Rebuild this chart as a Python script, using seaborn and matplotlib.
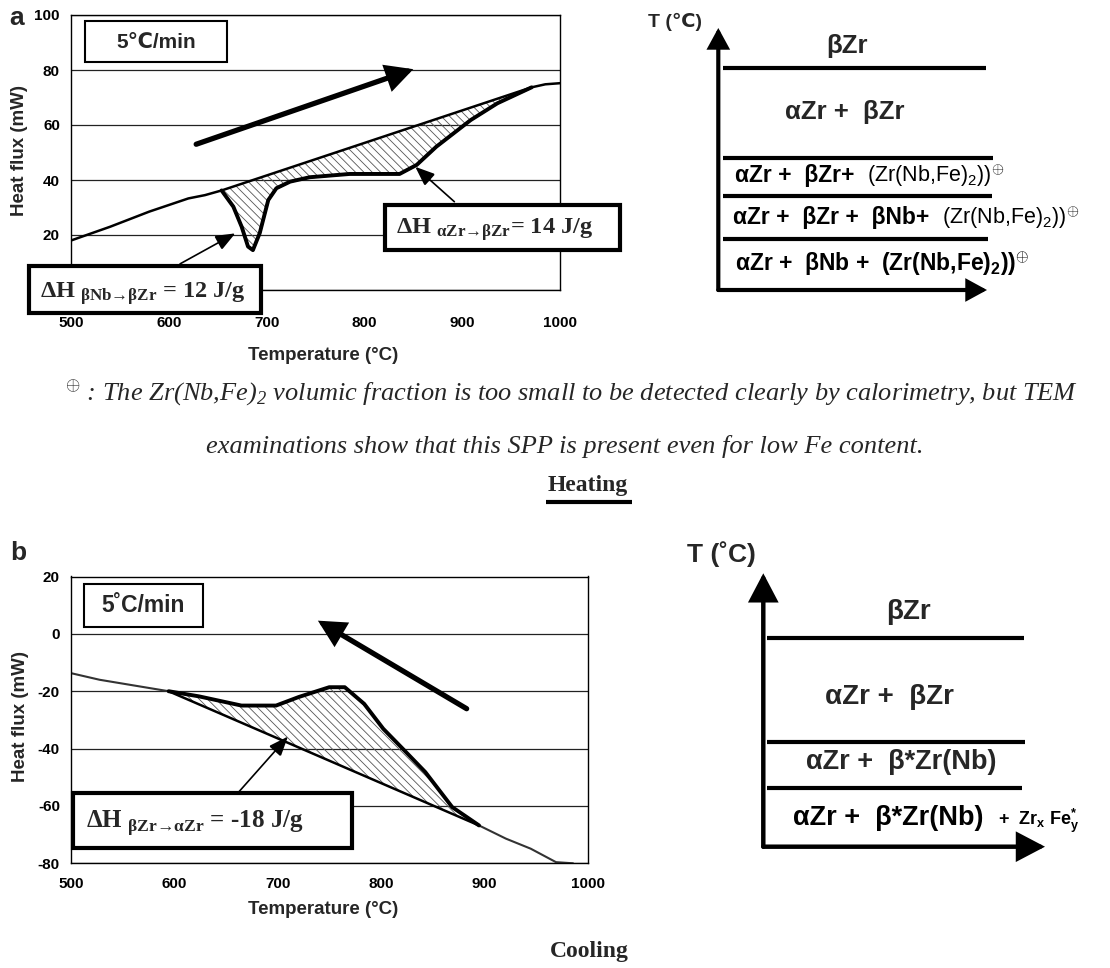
import numpy as np
import pandas as pd
import matplotlib
matplotlib.use("Agg")
import matplotlib.pyplot as plt
import seaborn as sns
from matplotlib.patches import Rectangle
from matplotlib.offsetbox import TextArea, HPacker, AnnotationBbox

# ---------------- data ----------------
heat_temp = [500, 540, 580, 620, 637, 654, 666, 674.5, 681, 686, 693, 701.7, 710,
             724, 744, 785, 836, 853.5, 873.5, 908.7, 936, 971, 985, 1000]
heat_flux = [18, 23, 28.5, 33.3, 34.5, 36.2, 30.3, 23, 15.8, 14.5, 20.7, 32.7, 37,
             39.4, 41, 42.2, 42.2, 45.5, 52.1, 61.8, 67.9, 73.7, 74.8, 75.2]
heat_base_temp = [654, 971]
heat_base_flux = [36.2, 73.7]

cool_temp = [500, 527.6, 561, 594.5, 624, 665, 698.5, 720.6, 750, 765, 783.8, 802.3,
             821, 843, 869, 895, 921, 945, 969.5, 986]
cool_flux = [-13.7, -16, -18, -20, -21.8, -25, -25, -22, -18.6, -18.6, -24.4, -33.1,
             -40, -48.2, -60.4, -66.8, -71.4, -74.9, -79.6, -80]
cool_base_temp = [594.5, 895]
cool_base_flux = [-20, -66.8]

x_ticks = [500, 600, 700, 800, 900, 1000]
heat_y_ticks = [0, 20, 40, 60, 80, 100]
heat_y_labels = ["", "20", "40", "60", "80", "100"]   # 0 is hidden behind the box
cool_y_ticks = [-80, -60, -40, -20, 0, 20]
cool_y_labels = ["-80", "-60", "-40", "-20", "0", "20"]

rate_a = "5\u2103/min"
rate_b = "5\u02daC/min"
dh_heat_1 = r"ΔH $_{\mathsf{βNb→βZr}}$ = 12 J/g"
dh_heat_2 = r"ΔH $_{\mathsf{αZr→βZr}}$= 14 J/g"
dh_cool = r"ΔH $_{\mathsf{βZr→αZr}}$ = -18 J/g"
caption_1 = r"$^{\oplus}$ : The Zr(Nb,Fe)$_\mathcal{2}$ volumic fraction is too small to be detected clearly by calorimetry, but TEM"
caption_2 = "examinations show that this SPP is present even for low Fe content."

# ---------------- style ----------------
sns.set_style("white")
plt.rcParams["font.family"] = ["Liberation Sans", "DejaVu Sans"]
plt.rcParams["mathtext.fontset"] = "custom"
plt.rcParams["mathtext.rm"] = "Liberation Sans"
plt.rcParams["mathtext.bf"] = "Liberation Sans:bold"
plt.rcParams["mathtext.it"] = "Liberation Sans:italic"
plt.rcParams["mathtext.sf"] = "Liberation Serif:bold"
plt.rcParams["mathtext.cal"] = "Liberation Serif:italic"
plt.rcParams["hatch.linewidth"] = 0.6

W, H = 1110, 968
fig = plt.figure(figsize=(W / 100, H / 100), dpi=100)


def add_ax(x0, y0, x1, y1):
    return fig.add_axes([x0 / W, 1 - y1 / H, (x1 - x0) / W, (y1 - y0) / H])


def style_axes(ax, xlim, ylim, yticks, ylabels, xpad):
    ax.set_xlim(*xlim)
    ax.set_ylim(*ylim)
    ax.set_xticks(x_ticks)
    ax.set_xticklabels([str(t) for t in x_ticks], fontsize=11, fontweight="bold")
    ax.set_yticks(yticks)
    ax.set_yticklabels(ylabels, fontsize=11, fontweight="bold")
    ax.tick_params(axis="x", direction="in", length=5, width=1, pad=xpad, colors="black")
    ax.tick_params(axis="y", direction="out", length=5, width=1, pad=3, colors="black")
    ax.xaxis.grid(False)
    ax.yaxis.grid(True, color="#222222", lw=0.9)
    ax.set_axisbelow(True)
    for sp in ax.spines.values():
        sp.set_visible(True)
        sp.set_color("black")
        sp.set_linewidth(1)
    ax.set_xlabel("")
    ax.set_ylabel("")


def arrow(ax, tail, head, lw, hl, hw, ms=20):
    ax.annotate("", xy=head, xytext=tail, xycoords="data", textcoords="data",
                arrowprops=dict(arrowstyle=f"-|>,head_length={hl},head_width={hw}",
                                lw=lw, color="black", shrinkA=0, shrinkB=0,
                                mutation_scale=ms, joinstyle="miter"))


def draw_dsc(ax, T, F, bT, bF, thin_color, thin_lw):
    T = np.asarray(T, float)
    F = np.asarray(F, float)
    df = pd.DataFrame({"T": T, "F": F})
    sns.lineplot(data=df, x="T", y="F", ax=ax, sort=False, estimator=None,
                 color=thin_color, lw=thin_lw)
    sel = (T >= bT[0]) & (T <= bT[1])
    ax.fill(T[sel], F[sel], facecolor="none", edgecolor="#555555", hatch="\\\\\\\\", lw=0)
    sns.lineplot(x=bT, y=bF, ax=ax, sort=False, estimator=None, color="black", lw=1.8)
    sns.lineplot(x=T[sel], y=F[sel], ax=ax, sort=False, estimator=None, color="black", lw=2.8)


# ---------------- panel a ----------------
axa = add_ax(71, 15, 560, 290)
draw_dsc(axa, heat_temp, heat_flux, heat_base_temp, heat_base_flux, "black", 1.8)
style_axes(axa, (500, 1000), (0, 100), heat_y_ticks, heat_y_labels, 19)
arrow(axa, (628, 53), (850, 80.3), 3.8, 0.7, 0.36)
arrow(axa, (611.5, 9.5), (668, 20.6), 1.2, 0.6, 0.24)
arrow(axa, (892, 32.1), (852, 44.8), 1.2, 0.6, 0.24)

# ---------------- panel b ----------------
axb = add_ax(71, 576.5, 587.5, 863.3)
draw_dsc(axb, cool_temp, cool_flux, cool_base_temp, cool_base_flux, "#333333", 1.5)
style_axes(axb, (500, 1000), (-80, 20), cool_y_ticks, cool_y_labels, 10)
arrow(axb, (883, -26.1), (739, 4.6), 3.8, 0.7, 0.36)
arrow(axb, (661, -55.7), (710, -35.8), 1.2, 0.6, 0.24)

# ---------------- overlay (annotations, schematics, captions) ----------------
ov = fig.add_axes([0, 0, 1, 1], zorder=10)
ov.set_xlim(0, W)
ov.set_ylim(H, 0)
ov.axis("off")


def box(x0, y0, x1, y1, lw):
    ov.add_patch(Rectangle((x0, y0), x1 - x0, y1 - y0, fc="white", ec="black", lw=lw, zorder=3))


def row(parts, xy, align=(0, 0.5)):
    kids = [TextArea(s, textprops=dict(fontsize=fs, fontweight=fw, color="black",
                                       family=["Liberation Sans", "DejaVu Sans"]))
            for s, fs, fw in parts]
    pk = HPacker(children=kids, align="baseline", pad=0, sep=0)
    ab = AnnotationBbox(pk, xy, xycoords="data", box_alignment=align, frameon=False, pad=0)
    ab.set_zorder(5)
    ov.add_artist(ab)


def ov_arrow(tail, head, lw, hl, hw, ms=20):
    arrow(ov, tail, head, lw, hl, hw, ms)


# axis labels
for (x, y) in [(323, 355), (323, 910)]:
    ov.text(x, y, "Temperature (°C)", fontsize=13.5, fontweight="bold", ha="center", va="center")
for (x, y) in [(20, 150), (21, 717)]:
    ov.text(x, y, "Heat flux (mW)", fontsize=13.5, fontweight="bold", ha="center", va="center",
            rotation=90)

# panel letters
ov.text(17, 18, "a", fontsize=19, fontweight="bold", ha="center", va="center")
ov.text(18, 553, "b", fontsize=19, fontweight="bold", ha="center", va="center")

# rate boxes
box(85, 21, 227, 62, 1.5)
ov.text(156, 42, rate_a, fontsize=15, fontweight="bold", ha="center", va="center", zorder=5)
box(84, 584, 203, 627, 1.5)
ov.text(143.5, 606, rate_b, fontsize=16.5, fontweight="bold", ha="center", va="center", zorder=5)

# enthalpy boxes
box(385, 205, 620, 250, 3)
ov.text(396, 234, dh_heat_2, family="Liberation Serif", fontweight="bold", fontsize=17.5,
        va="baseline", ha="left", zorder=5)
box(29, 266, 261, 313, 3)
ov.text(40, 298, dh_heat_1, family="Liberation Serif", fontweight="bold", fontsize=17.5,
        va="baseline", ha="left", zorder=5)
box(73, 793, 352, 848, 3)
ov.text(86, 828, dh_cool, family="Liberation Serif", fontweight="bold", fontsize=18,
        va="baseline", ha="left", zorder=5)

# ---------- schematic a ----------
ov.text(675, 22, "T (\u2103)", fontsize=14, fontweight="bold", ha="center", va="center")
ov_arrow((718.3, 290), (718.3, 28), 3, 0.55, 0.3)
ov_arrow((718.3, 290), (987, 290), 3, 0.55, 0.3)
for y, x1 in [(67.7, 986), (157.7, 993), (195.7, 991.7), (239.3, 988)]:
    ov.plot([723, x1], [y, y], color="black", lw=3, solid_capstyle="butt")
ov.text(846.7, 46, "βZr", fontsize=18.5, fontweight="bold", ha="center", va="center")
ov.text(845, 112, "αZr +  βZr", fontsize=18.5, fontweight="bold", ha="center", va="center")
row([("αZr +  βZr+  ", 16.5, "bold"), (r"(Zr(Nb,Fe)$_2$))$^{\oplus}$", 15.5, "normal")], (735, 176))
row([("αZr +  βZr +  βNb+  ", 16.5, "bold"), (r"(Zr(Nb,Fe)$_2$))$^{\oplus}$", 15.5, "normal")], (733, 218))
row([(r"αZr +  βNb +  (Zr(Nb,Fe)$_\mathbf{2}$))$^{\oplus}$", 16.5, "bold")], (735, 264))

# ---------- schematic b ----------
ov.text(721.7, 554, "T (\u02daC)", fontsize=19, fontweight="bold", ha="center", va="center")
ov_arrow((763.3, 846.7), (763.3, 573.3), 3.2, 0.8, 0.42)
ov_arrow((763.3, 846.7), (1045, 846.7), 3.2, 0.8, 0.42)
for y, x1 in [(638.3, 1024), (741.7, 1025), (787.7, 1022.3)]:
    ov.plot([767, x1], [y, y], color="black", lw=3, solid_capstyle="butt")
ov.text(908, 612, "βZr", fontsize=20, fontweight="bold", ha="center", va="center")
ov.text(889, 697, "αZr +  βZr", fontsize=20, fontweight="bold", ha="center", va="center")
ov.text(901.7, 762, "αZr +  β*Zr(Nb)", fontsize=19.5, fontweight="bold", ha="center", va="center")
row([("αZr +  β*Zr(Nb)  ", 19.5, "bold"),
     (r"+  Zr$_\mathbf{x}$ Fe$_\mathbf{y}^\mathbf{*}$", 13, "bold")],
    (793, 820))

# ---------- captions ----------
ov.text(572, 392, caption_1, family="Liberation Serif", style="italic", fontsize=19,
        ha="center", va="center")
ov.text(565, 447, caption_2, family="Liberation Serif", style="italic", fontsize=19,
        ha="center", va="center")
ov.text(588, 485, "Heating", family="Liberation Serif", fontweight="bold", fontsize=17,
        ha="center", va="center")
ov.plot([546, 632], [502, 502], color="black", lw=3, solid_capstyle="butt")
ov.text(589, 952, "Cooling", family="Liberation Serif", fontweight="bold", fontsize=17,
        ha="center", va="center")

fig.savefig("out.png", dpi=100)
